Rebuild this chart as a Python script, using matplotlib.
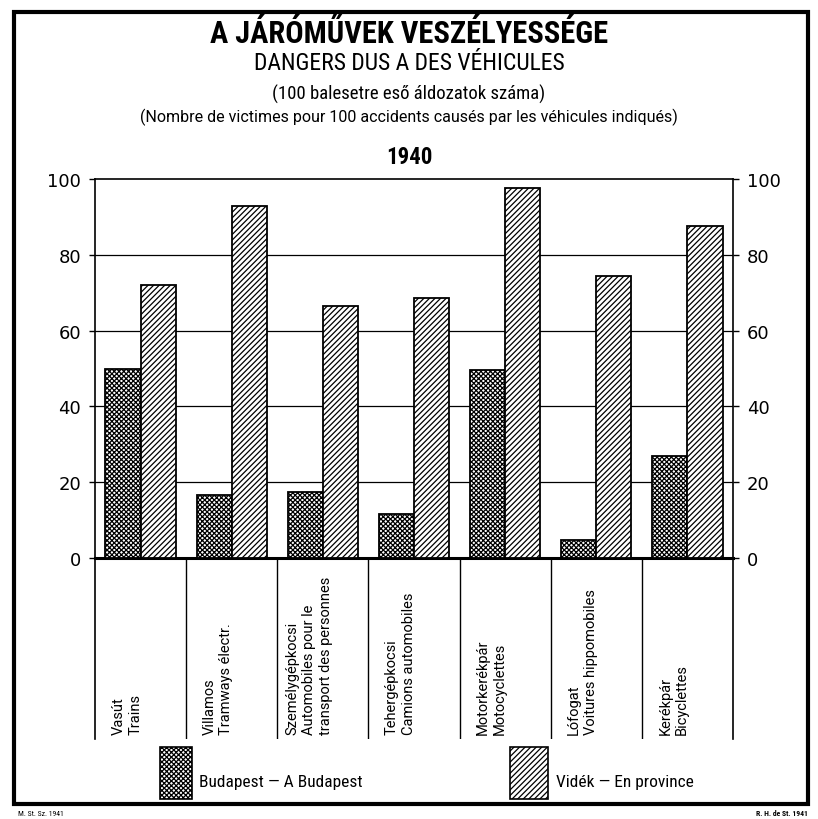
import matplotlib
matplotlib.use("Agg")
import matplotlib.pyplot as plt
from matplotlib.patches import Rectangle
import numpy as np

W, H = 818, 820

CATEGORIES = [
    "Vasút\nTrains",
    "Villamos\nTramways électr.",
    "Személygépkocsi\nAutomobiles pour le\ntransport des personnes",
    "Tehergépkocsi\nCamions automobiles",
    "Motorkerékpár\nMotocyclettes",
    "Lófogat\nVoitures hippomobiles",
    "Kerékpár\nBicyclettes",
]
BUDAPEST = [50, 16.5, 17.5, 11.5, 49.5, 4.8, 27]
VIDEK = [72, 93, 66.5, 68.5, 97.5, 74.5, 87.5]
Y_TICKS = [0, 20, 40, 60, 80, 100]

NARROW = ["Roboto Condensed", "DejaVu Sans"]
PLAIN = ["Roboto", "DejaVu Sans"]
plt.rcParams["hatch.linewidth"] = 0.9


def fx(px):
    return px / W


def fy(py):
    return 1 - py / H


fig = plt.figure(figsize=(W / 100, H / 100), dpi=100)

# main chart area
ax = fig.add_axes([fx(95), fy(559), fx(733) - fx(95), fy(180) - fy(559)])
x = np.arange(len(CATEGORIES))
bw = 0.385
ax.bar(x - bw / 2, BUDAPEST, bw, facecolor="white", edgecolor="black",
       hatch="xxxxxxx", linewidth=1.3, zorder=3)
ax.bar(x + bw / 2, VIDEK, bw, facecolor="white", edgecolor="black",
       hatch="//////", linewidth=1.3, zorder=3)
for yv in Y_TICKS[1:-1]:
    ax.axhline(yv, color="black", lw=0.9, zorder=1)
ax.set_xlim(-0.5, len(CATEGORIES) - 0.5)
ax.set_ylim(0, 100)
ax.set_xticks([])
ax.set_yticks(Y_TICKS)
ax.tick_params(axis="y", left=True, right=True, labelleft=True, labelright=True,
               length=4, width=1, direction="out", labelsize=13, pad=6)
for lab in ax.get_yticklabels():
    lab.set_family("DejaVu Sans")
for side in ("left", "right", "top"):
    ax.spines[side].set_linewidth(1.2)
ax.spines["bottom"].set_linewidth(2.2)

# category table under the chart
tx = fig.add_axes([fx(95), fy(740), fx(733) - fx(95), fy(559) - fy(740)])
tx.set_xlim(-0.5, len(CATEGORIES) - 0.5)
tx.set_ylim(0, 1)
tx.set_xticks([])
tx.set_yticks([])
tx.patch.set_visible(False)
for side in ("top", "bottom"):
    tx.spines[side].set_visible(False)
for side in ("left", "right"):
    tx.spines[side].set_linewidth(1.2)
for b in np.arange(0.5, len(CATEGORIES) - 1, 1.0):
    tx.axvline(b, color="black", lw=1.0)
for i, lab in enumerate(CATEGORIES):
    tx.text(i - 0.15, 0.03, lab, rotation=90, ha="center", va="bottom",
            multialignment="left", fontsize=10.5, family=PLAIN, linespacing=1.25)

# titles
fig.text(0.5, fy(34), "A JÁRÓMŰVEK VESZÉLYESSÉGE", ha="center", va="center",
         fontsize=22, fontweight="bold", family=NARROW)
fig.text(0.5, fy(63), "DANGERS DUS A DES VÉHICULES", ha="center", va="center",
         fontsize=17, family=NARROW)
fig.text(0.5, fy(94), "(100 balesetre eső áldozatok száma)", ha="center", va="center",
         fontsize=13.5, family=NARROW)
fig.text(0.5, fy(117), "(Nombre de victimes pour 100 accidents causés par les véhicules indiqués)",
         ha="center", va="center", fontsize=11.5, family=PLAIN)
fig.text(0.5, fy(158), "1940", ha="center", va="center",
         fontsize=16.5, fontweight="bold", family=NARROW)

# legend
fig.patches.append(Rectangle((fx(160), fy(800)), fx(32), fy(748) - fy(800),
                             transform=fig.transFigure, facecolor="white",
                             edgecolor="black", hatch="xxxxxxx", lw=1.2))
fig.text(fx(199), fy(783), "Budapest — A Budapest", ha="left", va="center",
         fontsize=12.5, family=NARROW)
fig.patches.append(Rectangle((fx(510), fy(800)), fx(38), fy(748) - fy(800),
                             transform=fig.transFigure, facecolor="white",
                             edgecolor="black", hatch="//////", lw=1.2))
fig.text(fx(556), fy(783), "Vidék — En province", ha="left", va="center",
         fontsize=12.5, family=NARROW)

# outer frame and footer
fig.patches.append(Rectangle((fx(14), fy(805)), fx(808) - fx(14), fy(13) - fy(805),
                             transform=fig.transFigure, fill=False,
                             edgecolor="black", lw=3))
fig.text(fx(18), fy(814), "M. St. Sz. 1941", ha="left", va="center",
         fontsize=5.5, family=NARROW)
fig.text(fx(808), fy(814), "R. H. de St. 1941", ha="right", va="center",
         fontsize=5.5, fontweight="bold", family=NARROW)

fig.savefig("out.png", dpi=100)
